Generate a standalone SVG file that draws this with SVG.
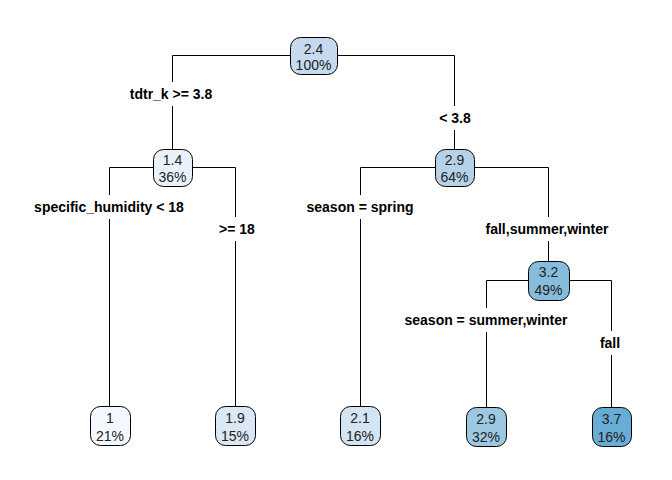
<svg xmlns="http://www.w3.org/2000/svg" width="672" height="480" viewBox="0 0 672 480">
<style>
.ln{fill:none;stroke:#000;stroke-width:1}
.box{stroke:#000;stroke-width:1}
.nt{font-family:"Liberation Sans",Arial,sans-serif;font-size:14px;fill:#222;text-anchor:middle}
.lb{font-family:"Liberation Sans",Arial,sans-serif;font-size:14px;font-weight:bold;fill:#000;text-anchor:middle}
.bg{fill:#fff}
</style>
<rect width="672" height="480" fill="#fff"/>
<g id="connectors">
<path class="ln" d="M172.5,149 V55.5 H454.5 V149"/>
<path class="ln" d="M109.5,406 V167.5 H235.5 V406"/>
<path class="ln" d="M360.5,406 V167.5 H548.5 V261"/>
<path class="ln" d="M486.5,407 V280.5 H611.5 V407"/>
<rect class="bg" x="127" y="82" width="90" height="24"/>
<text class="lb" x="171" y="99">tdtr_k &gt;= 3.8</text>
<rect class="bg" x="437" y="106" width="36" height="24"/>
<text class="lb" x="455" y="123">&lt; 3.8</text>
<rect class="bg" x="30" y="195" width="158" height="24"/>
<text class="lb" x="109" y="212">specific_humidity &lt; 18</text>
<rect class="bg" x="216" y="217" width="42" height="24"/>
<text class="lb" x="237" y="234">&gt;= 18</text>
<rect class="bg" x="301" y="195" width="118" height="24"/>
<text class="lb" x="360" y="212">season = spring</text>
<rect class="bg" x="480" y="217" width="134" height="24"/>
<text class="lb" x="547" y="234">fall,summer,winter</text>
<rect class="bg" x="398" y="308" width="176" height="24"/>
<text class="lb" x="486" y="325">season = summer,winter</text>
<rect class="bg" x="597" y="331" width="27" height="24"/>
<text class="lb" x="610" y="348">fall</text>
</g>
<g id="node1"><rect class="box" x="290.5" y="37.5" width="47" height="37" rx="10" fill="#c5daee"/><text class="nt" x="313.5" y="53.5">2.4</text><text class="nt" x="313.5" y="70">100%</text></g>
<g id="node2"><rect class="box" x="153.5" y="149.5" width="39" height="37" rx="10" fill="#e9f2fb"/><text class="nt" x="172.5" y="165">1.4</text><text class="nt" x="172.5" y="182">36%</text></g>
<g id="node3"><rect class="box" x="435.5" y="149.5" width="39" height="37" rx="10" fill="#b5d2e9"/><text class="nt" x="454.5" y="165">2.9</text><text class="nt" x="454.5" y="182">64%</text></g>
<g id="node7"><rect class="box" x="528.5" y="261.5" width="41" height="39" rx="10" fill="#86bcdc"/><text class="nt" x="548.5" y="277">3.2</text><text class="nt" x="548.5" y="295">49%</text></g>
<g id="leaf4"><rect class="box" x="90.5" y="406.5" width="40" height="39" rx="10" fill="#f3f8fe"/><text class="nt" x="110" y="423">1</text><text class="nt" x="110" y="441">21%</text></g>
<g id="leaf5"><rect class="box" x="215.5" y="406.5" width="40" height="39" rx="10" fill="#dae7f4"/><text class="nt" x="235" y="423">1.9</text><text class="nt" x="235" y="441">15%</text></g>
<g id="leaf6"><rect class="box" x="340.5" y="406.5" width="40" height="39" rx="10" fill="#d3e4f3"/><text class="nt" x="360" y="423">2.1</text><text class="nt" x="360" y="441">16%</text></g>
<g id="leaf14"><rect class="box" x="466.5" y="407.5" width="40" height="39" rx="10" fill="#9cc8e2"/><text class="nt" x="486" y="424">2.9</text><text class="nt" x="486" y="442">32%</text></g>
<g id="leaf15"><rect class="box" x="592.5" y="407.5" width="39" height="39" rx="10" fill="#67add5"/><text class="nt" x="611.5" y="424">3.7</text><text class="nt" x="611.5" y="442">16%</text></g>
</svg>
